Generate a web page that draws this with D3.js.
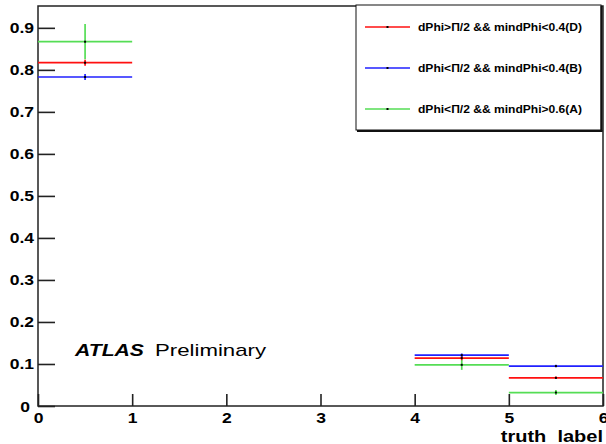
<!DOCTYPE html>
<html><head><meta charset="utf-8">
<script src="https://cdn.jsdelivr.net/npm/d3@7"></script>
<style>
body{margin:0;background:#fff;}
svg{display:block;}
text{font-family:"Liberation Sans",Arial,Helvetica,sans-serif;fill:#000;}
</style>
</head><body>
<svg id="c" width="606" height="444"></svg>
<script>
// ---- data ----
const binEdges = [0, 1, 2, 3, 4, 5, 6];
const seriesNames = ["dPhi>\u03A0/2 && mindPhi<0.4(D)", "dPhi<\u03A0/2 && mindPhi<0.4(B)", "dPhi<\u03A0/2 && mindPhi>0.6(A)"];
const seriesColors = ["#ff1010", "#2020ff", "#55dd55"];
const valuesD = [0.817, 0, 0, 0, 0.114, 0.067];
const errorsD = [0.007, 0, 0, 0, 0.005, 0.003];
const valuesB = [0.783, 0, 0, 0, 0.121, 0.095];
const errorsB = [0.007, 0, 0, 0, 0.004, 0.003];
const valuesA = [0.867, 0, 0, 0, 0.098, 0.032];
const errorsA = [0.042, 0, 0, 0, 0.012, 0.006];
const xTicks = [0, 1, 2, 3, 4, 5, 6];
const yTicks = [0, 0.1, 0.2, 0.3, 0.4, 0.5, 0.6, 0.7, 0.8, 0.9];
const xTitle = "truth  label";

// ---- layout ----
const svg = d3.select("#c");
const L = 38, R = 603, T = 6, B = 406;
const x = d3.scaleLinear().domain([0, 6]).range([L, R]);
const y = d3.scaleLinear().domain([0, 0.952]).range([B, T]);
const stretch = 1.25;

function stretchText(sel, f) {
  sel.each(function () {
    const len = this.getComputedTextLength();
    if (len > 0) d3.select(this).attr("textLength", len * f).attr("lengthAdjust", "spacingAndGlyphs");
  });
}

// minor ticks
const yMinor = d3.range(0, 0.95, 0.02).filter(v => Math.abs(v * 10 - Math.round(v * 10)) > 1e-6);
const xMinor = d3.range(0, 6.001, 0.2).filter(v => Math.abs(v - Math.round(v)) > 1e-6);

const gy = svg.append("g").attr("transform", `translate(${L},0)`);
gy.call(d3.axisLeft(y).tickValues(yMinor).tickSize(-9).tickFormat(""));
gy.call(d3.axisLeft(y).tickValues(yTicks).tickSize(-17).tickPadding(4)
  .tickFormat(d => d === 0 ? "0" : d3.format(".1f")(d)));
const gx = svg.append("g").attr("transform", `translate(0,${B})`);
gx.call(d3.axisBottom(x).tickValues(xMinor).tickSize(-6).tickFormat(""));
gx.call(d3.axisBottom(x).tickValues(xTicks).tickSize(-12).tickPadding(7).tickFormat(d3.format("d")));

svg.selectAll(".domain").remove();
svg.selectAll(".tick line").attr("stroke", "#222").attr("stroke-width", 1.6);
svg.selectAll(".tick text").attr("font-family", "Liberation Sans, Arial, sans-serif")
  .attr("font-size", 14).attr("font-weight", "bold").attr("fill", "#000");
gy.selectAll(".tick text").filter(d => d === 0).attr("x", -8).attr("dy", "0.42em");
stretchText(svg.selectAll(".tick text"), stretch);

// frame
svg.append("rect").attr("x", L).attr("y", T).attr("width", R - L).attr("height", B - T)
  .attr("fill", "none").attr("stroke", "#222").attr("stroke-width", 1.5);

// ---- histograms with errors ----
const series = [
  { vals: valuesA, errs: errorsA, color: seriesColors[2] },
  { vals: valuesD, errs: errorsD, color: seriesColors[0] },
  { vals: valuesB, errs: errorsB, color: seriesColors[1] }
];
series.forEach(s => {
  const bins = s.vals.map((v, i) => ({ v, e: s.errs[i], x0: binEdges[i], x1: binEdges[i + 1] })).filter(b => b.v > 0);
  const g = svg.append("g");
  g.selectAll("line.h").data(bins).join("line").attr("class", "h")
    .attr("x1", b => x(b.x0)).attr("x2", b => x(b.x1))
    .attr("y1", b => y(b.v)).attr("y2", b => y(b.v))
    .attr("stroke", s.color).attr("stroke-width", 1.7);
  g.selectAll("line.v").data(bins).join("line").attr("class", "v")
    .attr("x1", b => x((b.x0 + b.x1) / 2)).attr("x2", b => x((b.x0 + b.x1) / 2))
    .attr("y1", b => y(b.v - b.e)).attr("y2", b => y(b.v + b.e))
    .attr("stroke", s.color).attr("stroke-width", 1.7);
  g.selectAll("rect.m").data(bins).join("rect").attr("class", "m")
    .attr("x", b => x((b.x0 + b.x1) / 2) - 1).attr("y", b => y(b.v) - 1)
    .attr("width", 2).attr("height", 2).attr("fill", "#000");
});

// ---- axis title ----
const xt = svg.append("text").attr("x", R).attr("y", 442).attr("text-anchor", "end")
  .attr("font-size", 16).attr("font-weight", "bold").style("white-space", "pre").text(xTitle);
stretchText(xt, stretch);

// ---- ATLAS label ----
svg.append("text").attr("x", 75).attr("y", 356).attr("font-size", 17).attr("font-weight", "bold")
  .attr("font-style", "italic").attr("textLength", 69).attr("lengthAdjust", "spacingAndGlyphs").text("ATLAS");
svg.append("text").attr("x", 155).attr("y", 356).attr("font-size", 17)
  .attr("textLength", 111).attr("lengthAdjust", "spacingAndGlyphs").text("Preliminary");

// ---- legend ----
const lg = svg.append("g");
lg.append("rect").attr("x", 356).attr("y", 5).attr("width", 245).attr("height", 125)
  .attr("fill", "#fff").attr("stroke", "#111").attr("stroke-width", 1);
lg.append("line").attr("x1", 601.5).attr("x2", 601.5).attr("y1", 6).attr("y2", 131.5).attr("stroke", "#111").attr("stroke-width", 2);
lg.append("line").attr("x1", 357).attr("x2", 602.5).attr("y1", 131).attr("y2", 131).attr("stroke", "#111").attr("stroke-width", 2);
const rowY = [27, 68, 109];
seriesNames.forEach((name, i) => {
  lg.append("line").attr("x1", 365).attr("x2", 410).attr("y1", rowY[i]).attr("y2", rowY[i])
    .attr("stroke", seriesColors[i]).attr("stroke-width", 1.7);
  lg.append("rect").attr("x", 386.5).attr("y", rowY[i] - 1).attr("width", 2).attr("height", 2).attr("fill", "#000");
  lg.append("text").attr("x", 418).attr("y", rowY[i] + 4).attr("font-size", 10.5).attr("font-weight", "bold")
    .attr("textLength", 164).attr("lengthAdjust", "spacingAndGlyphs").text(name);
});
</script>
</body></html>
